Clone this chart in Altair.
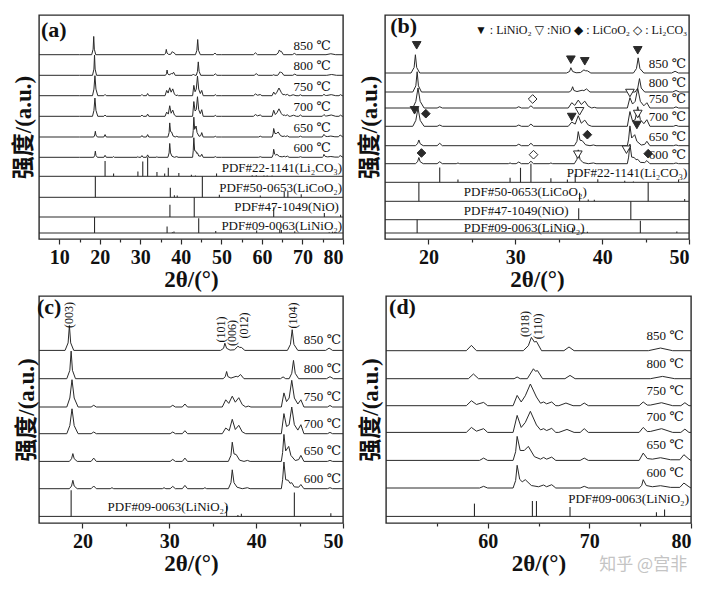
import altair as alt
import pandas as pd

# ---------------- data ----------------
TEMPS = ["850", "800", "750", "700", "650", "600"]

# (2theta, intensity) points of each pattern, intensity in arbitrary units
T850 = [(5, 0), (15, 0), (18.0, 0), (18.35, 25), (18.5, 83), (18.65, 25), (19.0, 0),
        (35.9, 0), (36.25, 7), (36.4, 24), (36.6, 7), (37.0, 1), (37.5, 2), (37.9, 14), (38.1, 10),
        (38.3, 10), (38.7, 0), (43.6, 0), (43.95, 20), (44.15, 69), (44.35, 20), (44.8, 0),
        (48.0, 0), (48.4, 7.7), (48.8, 0), (50, 0), (57.9, 0), (58.4, 8.6), (58.9, 0),
        (63.5, 0), (64.0, 8), (64.3, 21.5), (64.6, 14), (64.8, 15), (65.3, 0),
        (67.5, 0), (68.0, 6), (68.5, 0), (75.8, 0), (77.0, 4.3), (78.2, 0), (80, 0)]
T800 = [(5, 0), (15, 0), (18.2, 0), (18.55, 28), (18.7, 92), (18.85, 28), (19.2, 0),
        (36.2, 0), (36.45, 7), (36.6, 24), (36.75, 7), (37.1, 2), (37.7, 8), (37.9, 6), (38.2, 14), (38.6, 0),
        (42.8, 0), (43.1, 6), (43.4, 0), (43.8, 0), (44.1, 18), (44.3, 61), (44.5, 18), (44.9, 0),
        (48.1, 0), (48.5, 6.7), (48.9, 0), (50, 0), (58.1, 0), (58.6, 7.6), (59.1, 0),
        (62.6, 0), (62.9, 2.7), (63.2, 0), (63.9, 0), (64.5, 16), (64.7, 12), (64.9, 13), (65.4, 0),
        (67.6, 0), (68.1, 5.3), (68.6, 0), (76.0, 0), (77.2, 3.7), (78.4, 0), (80, 0)]
T750 = [(5, 0), (15, 0), (18.2, 0), (18.55, 30), (18.8, 91), (19.05, 30), (19.5, 0),
        (21.0, 0), (21.3, 5.7), (21.6, 0), (30.1, 0), (30.4, 5.7), (30.7, 0), (31.5, 0), (31.8, 10), (32.1, 0),
        (36.1, 0), (36.5, 24), (36.85, 12), (37.25, 36), (37.6, 16), (38.0, 31), (38.4, 8), (38.8, 0),
        (39.1, 3), (39.4, 0), (42.9, 0), (43.2, 47), (43.5, 18), (43.8, 30), (44.1, 89), (44.4, 30),
        (44.8, 10), (45.15, 24), (45.5, 0), (48.2, 0), (48.5, 5), (48.8, 0), (50, 0),
        (57.9, 0), (58.4, 8), (58.9, 2), (59.6, 5.3), (60.0, 0),
        (62.5, 0), (62.9, 16.6), (63.3, 6), (63.7, 16), (64.2, 35), (64.8, 14), (65.2, 4), (65.5, 6),
        (65.8, 3), (66.3, 6), (66.7, 0), (67.0, 0), (67.7, 4.3), (68.4, 0), (69.1, 0), (69.5, 4.3), (69.9, 0),
        (74.9, 0), (75.3, 6), (75.7, 1), (76.0, 1), (77.1, 4.8), (78.2, 0), (79.0, 0), (79.4, 4.8), (79.8, 0), (80, 0)]
T700 = [(5, 0), (15, 0), (18.2, 0), (18.55, 27), (18.8, 83), (19.05, 27), (19.5, 0),
        (21.0, 0), (21.3, 5.7), (21.6, 0), (30.1, 0), (30.4, 5.7), (30.7, 0), (31.5, 0), (31.8, 10), (32.1, 0),
        (36.1, 0), (36.5, 19), (36.9, 10), (37.25, 48), (37.6, 14), (38.0, 28), (38.4, 6), (38.8, 0),
        (42.9, 0), (43.2, 67), (43.5, 24), (43.8, 30), (44.1, 89), (44.4, 30), (44.8, 12), (45.15, 30), (45.5, 0),
        (48.2, 0), (48.5, 4.3), (48.8, 0), (50, 0), (57.9, 0), (58.4, 8), (58.9, 2), (59.6, 6), (60.0, 0),
        (62.5, 0), (62.9, 27.4), (63.3, 8), (63.7, 16), (64.2, 34), (64.8, 12), (65.2, 4), (65.5, 6),
        (65.8, 3), (66.3, 6.5), (66.7, 0), (67.0, 0), (67.8, 4.8), (68.5, 0), (69.1, 0), (69.5, 6), (69.9, 0),
        (74.9, 0), (75.3, 8), (75.7, 1.5), (76.0, 1.5), (77.1, 6), (78.2, 0), (79.0, 0), (79.4, 5.3), (79.8, 0), (80, 0)]
T650 = [(5, 0), (15, 0), (18.5, 0), (18.75, 9), (18.9, 26), (19.05, 9), (19.4, 0),
        (21.0, 0), (21.3, 11), (21.6, 0), (30.1, 0), (30.4, 6.7), (30.7, 0), (31.5, 0), (31.8, 11), (32.1, 0),
        (36.8, 0), (37.1, 20), (37.25, 64), (37.45, 25), (37.7, 23), (38.1, 4), (38.6, 0), (39.0, 3.3), (39.3, 0),
        (42.9, 0), (43.05, 30), (43.2, 90), (43.4, 35), (43.75, 50), (44.0, 20), (44.5, 3), (44.9, 6),
        (45.15, 20), (45.5, 0), (48.2, 0), (48.5, 3.3), (48.8, 0), (50, 0), (59.2, 0), (59.6, 3.7), (60.0, 0),
        (62.5, 0), (62.75, 14), (62.9, 38.7), (63.2, 16), (63.6, 16), (64.0, 22.6), (64.6, 6), (65.2, 2),
        (65.5, 4.8), (65.8, 2), (66.3, 5.3), (66.7, 0), (69.1, 0), (69.5, 3.7), (69.9, 0),
        (74.9, 0), (75.3, 11.8), (75.7, 3), (76.2, 2), (77, 4.3), (78.0, 1), (78.9, 1), (79.3, 9.2), (79.8, 2), (80, 0)]
T600 = [(5, 0), (15, 0), (18.5, 0), (18.75, 9), (18.9, 28), (19.05, 9), (19.4, 0),
        (21.0, 0), (21.3, 9), (21.6, 0), (23.2, 0), (23.4, 3.3), (23.6, 0),
        (29.2, 0), (29.4, 3.3), (29.6, 0), (30.1, 0), (30.4, 7.7), (30.7, 0), (31.5, 0), (31.8, 11), (32.1, 0),
        (33.9, 0), (34.1, 3.3), (34.3, 0), (36.8, 0), (37.1, 20), (37.25, 63), (37.45, 20), (37.8, 5),
        (38.4, 0), (39.0, 3.3), (39.3, 0), (42.9, 0), (43.05, 30), (43.2, 89), (43.4, 30), (43.7, 28),
        (43.9, 18), (44.1, 20), (44.4, 6), (44.9, 5), (45.15, 14), (45.5, 0), (48.2, 0), (48.5, 3.3), (48.8, 0),
        (50, 0), (59.2, 0), (59.6, 2.7), (60.0, 0),
        (62.5, 0), (62.75, 12), (62.9, 36.6), (63.15, 14), (63.4, 10), (63.7, 13.4), (64.3, 4), (65.0, 2),
        (65.5, 4.8), (65.8, 2), (66.3, 5.3), (66.7, 0), (69.1, 0), (69.5, 2.7), (69.9, 0),
        (74.9, 0), (75.15, 4), (75.3, 13.4), (75.6, 4), (76.2, 2), (77, 3.7), (78.0, 1), (78.9, 1), (79.3, 8), (79.8, 2), (80, 0)]
TRACES = {"850": T850, "800": T800, "750": T750, "700": T700, "650": T650, "600": T600}

# reference sticks: (2theta, relative intensity %)
S_LI2CO3 = [(21.3, 80), (23.4, 15), (29.4, 25), (30.6, 78), (31.8, 100), (34.1, 22), (36.0, 15),
            (36.9, 45), (39.5, 17), (42.6, 8), (43.6, 4), (48.8, 15), (57.6, 5), (58.6, 5),
            (60.5, 4), (61.3, 4), (62.5, 4)]
S_LICOO2 = [(18.9, 100), (37.4, 45), (38.4, 10), (39.1, 8), (45.3, 100), (49.5, 12), (59.6, 8),
            (65.5, 25), (66.4, 25), (69.7, 15)]
S_NIO = [(37.3, 62), (43.3, 100), (62.9, 50), (75.4, 20), (79.4, 12)]
S_LINIO2 = [(18.7, 100), (36.6, 40), (37.9, 5), (38.3, 10), (44.4, 92), (48.6, 12), (58.7, 15),
            (64.4, 18), (64.8, 18), (68.1, 11), (76.6, 5), (77.4, 8)]
STICKS = {"Li2CO3": S_LI2CO3, "LiCoO2": S_LICOO2, "NiO": S_NIO, "LiNiO2": S_LINIO2}
PDF_TEXT = {"Li2CO3": "PDF#22-1141(Li₂CO₃)", "LiCoO2": "PDF#50-0653(LiCoO₂)",
            "NiO": "PDF#47-1049(NiO)", "LiNiO2": "PDF#09-0063(LiNiO₂)"}

# phase markers of panel (b): (2theta, height)
M_LINIO2 = [(18.65, 193.7), (36.4, 179.3), (38.0, 177.7), (44.1, 188.7), (18.4, 128.7), (36.5, 122), (44.0, 114)]
M_NIO = [(43.2, 146), (37.4, 127.7), (44.1, 125), (37.2, 84.3), (42.8, 89.3)]
M_LICOO2 = [(19.7, 125.3), (38.3, 104.3), (19.2, 86), (45.3, 85.3)]
M_LI2CO3 = [(32.0, 140), (32.1, 84.3)]

HKL_C = [("(003)", 18.5, 208), ("(101)", 36.0, 193.6), ("(006)", 37.26, 190),
         ("(012)", 38.6, 197.6), ("(104)", 44.2, 207.6)]
HKL_D = [("(018)", 63.7, 199), ("(110)", 64.95, 196.6)]

# ---------------- layout / style ----------------
SERIF = "Liberation Serif, DejaVu Serif, Noto Sans CJK SC, serif"
INK = "#2a2a2a"

LAYOUT = {
    "a": dict(xmin=5, xmax=80, width=304, height=224, scale=0.22, mult=1.0, ypad=4,
              base={"850": 184.3, "800": 163.7, "750": 143.3, "700": 122.7, "650": 102, "600": 81.7},
              pdfs={"Li2CO3": (62.7, 19), "LiCoO2": (41.7, 21), "NiO": (22, 19.7), "LiNiO2": (6, 16)},
              pdf_lab=[("Li2CO3", 79.8, 71, "right"), ("LiCoO2", 79.8, 51, "right"),
                       ("NiO", 79.0, 31.7, "right"), ("LiNiO2", 79.8, 12.7, "right")],
              temp_x=77.0, temp_dy=9, tag="(a)", tag_x=5.5, tag_y=209),
    "b": dict(xmin=15, xmax=50, width=304, height=224, scale=0.22, mult=1.0, ypad=4,
              base={"850": 166, "800": 147, "750": 131, "700": 112.7, "650": 93.3, "600": 75.3},
              pdfs={"Li2CO3": (56.7, 18.6), "LiCoO2": (37.7, 19), "NiO": (19.3, 18.4), "LiNiO2": (6, 13.3)},
              pdf_lab=[("Li2CO3", 49.8, 66, "right"), ("LiCoO2", 24.07, 46.7, "left"),
                       ("NiO", 24.07, 27.7, "left"), ("LiNiO2", 24.07, 11, "left")],
              temp_x=49.65, temp_dy=9, tag="(b)", tag_x=15.6, tag_y=212.7),
    "c": dict(xmin=15, xmax=50, width=304, height=227, scale=0.3, mult=0.94, ypad=1,
              base={"850": 172.6, "800": 144.3, "750": 116, "700": 89.3, "650": 61.6, "600": 34.3},
              pdfs={"LiNiO2": (6.6, 27.7)},
              pdf_lab=[("LiNiO2", 22.9, 16, "left")],
              temp_x=49.77, temp_dy=10, tag="(c)", tag_x=15.0, tag_y=216),
    "d": dict(xmin=50, xmax=80, width=305, height=227, scale=0.62, mult=3.0, ypad=4,
              base={"850": 172.3, "800": 144.3, "750": 117.3, "700": 90.6, "650": 62.6, "600": 35},
              pdfs={"LiNiO2": (6.6, 28.4)},
              pdf_lab=[("LiNiO2", 79.8, 24.5, "right")],
              temp_x=79.3, temp_dy=15, tag="(d)", tag_x=50.3, tag_y=216),
}


def make_panel(key):
    cfg = LAYOUT[key]
    xmin, xmax, H = cfg["xmin"], cfg["xmax"], cfg["height"]

    rows = []
    for t in TEMPS:
        for x, v in TRACES[t]:
            if xmin <= x <= xmax:
                rows.append({"trace": t, "x": x, "y": cfg["base"][t] + v * cfg["scale"]})
    line_df = pd.DataFrame(rows)

    srows, brows = [], []
    for name, (b0, h) in cfg["pdfs"].items():
        brows.append({"x": xmin, "x2": xmax, "y": b0})
        for x, pct in STICKS[name]:
            if xmin < x < xmax:
                srows.append({"x": x, "y": b0, "y2": min(b0 + pct / 100 * h * cfg["mult"], b0 + h)})
    stick_df = pd.DataFrame(srows)
    base_df = pd.DataFrame(brows)

    tick_vals = [v for v in range(5, 81, 5) if xmin < v <= xmax]
    xs = alt.Scale(domain=[xmin, xmax], nice=False, zero=False)
    ys = alt.Scale(domain=[0, H], nice=False, zero=False)
    xaxis = alt.Axis(values=tick_vals, labelExpr="datum.value % 10 == 0 ? datum.label : ''",
                     title="2θ/(°)", grid=False, domain=False,
                     tickSize={"condition": {"test": "datum.value % 10 == 0", "value": 5}, "value": 3},
                     tickColor=INK, tickWidth=1.2, labelPadding=3, titlePadding=1)
    yaxis = alt.Axis(title="强度/(a.u.)", ticks=False, labels=False, domain=False, grid=False,
                     titlePadding=cfg["ypad"])
    X = alt.X("x:Q", scale=xs, axis=xaxis)
    Y = alt.Y("y:Q", scale=ys, axis=yaxis)

    lines = alt.Chart(line_df).mark_line(color=INK, strokeWidth=1).encode(
        x=X, y=Y, detail="trace:N", order="x:Q")
    base_rules = alt.Chart(base_df).mark_rule(color=INK, strokeWidth=1).encode(
        x=X, x2="x2:Q", y=Y)
    sticks = alt.Chart(stick_df).mark_rule(color=INK, strokeWidth=1.1).encode(
        x=X, y=Y, y2="y2:Q")

    temp_df = pd.DataFrame([{"x": cfg["temp_x"], "y": cfg["base"][t] + cfg["temp_dy"], "text": f"{t}  ℃"}
                            for t in TEMPS])
    temps = alt.Chart(temp_df).mark_text(align="right", baseline="middle", font=SERIF,
                                         fontSize=13, color="#111").encode(x=X, y=Y, text="text:N")

    layers = [lines, base_rules, sticks, temps]

    for align in ["left", "right"]:
        lab = [{"x": x, "y": y, "text": PDF_TEXT[n]} for n, x, y, a in cfg["pdf_lab"] if a == align]
        if lab:
            layers.append(alt.Chart(pd.DataFrame(lab)).mark_text(
                align=align, baseline="middle", font=SERIF, fontSize=13, color="#111").encode(
                x=X, y=Y, text="text:N"))

    tag_df = pd.DataFrame([{"x": cfg["tag_x"], "y": cfg["tag_y"], "text": cfg["tag"]}])
    layers.append(alt.Chart(tag_df).mark_text(
        align="left", baseline="middle", font=SERIF, fontSize=22, fontWeight="bold",
        dx=-2 if key == "c" else 0, color="#111").encode(x=X, y=Y, text="text:N"))

    if key == "b":
        shapes = [(M_LINIO2, "triangle-down", INK), (M_NIO, "triangle-down", "white"),
                  (M_LICOO2, "diamond", INK), (M_LI2CO3, "diamond", "white")]
        for pts, shp, fill in shapes:
            mdf = pd.DataFrame([{"x": x, "y": y} for x, y in pts])
            layers.append(alt.Chart(mdf).mark_point(
                shape=shp, filled=True, fill=fill, stroke=INK, strokeWidth=1, size=75,
                opacity=1).encode(x=X, y=Y))
        leg = pd.DataFrame([{"x": 49.8, "y": 209.3,
                             "text": "▼ : LiNiO₂  ▽ :NiO  ◆ : LiCoO₂  ◇ : Li₂CO₃"}])
        layers.append(alt.Chart(leg).mark_text(
            align="right", baseline="middle", font=SERIF, fontSize=12, color="#111").encode(
            x=X, y=Y, text="text:N"))

    if key in ("c", "d"):
        hkl = HKL_C if key == "c" else HKL_D
        hdf = pd.DataFrame([{"x": x, "y": y, "text": s} for s, x, y in hkl])
        layers.append(alt.Chart(hdf).mark_text(
            align="center", baseline="middle", angle=270, font=SERIF, fontSize=12,
            color="#111").encode(x=X, y=Y, text="text:N"))

    if key == "d":
        wm = pd.DataFrame([{"x": 75.3, "y": -42, "text": "知乎 @宫非"}])
        layers.append(alt.Chart(wm).mark_text(
            align="center", baseline="middle", font="Noto Sans CJK SC", fontSize=17,
            color="#c4c4c4").encode(x=X, y=Y, text="text:N"))

    return alt.layer(*layers).properties(width=cfg["width"], height=H)


top = alt.hconcat(make_panel("a"), make_panel("b"), spacing=11)
bottom = alt.hconcat(make_panel("c"), make_panel("d"), spacing=12)

chart = alt.vconcat(top, bottom, spacing=3).properties(
    padding={"left": 11, "top": 14, "right": 5, "bottom": 5},
    background="white"
).configure_view(
    stroke=INK, strokeWidth=1.4
).configure_axis(
    labelFont=SERIF, labelFontSize=20, labelFontWeight="bold", labelColor="#111",
    titleFont=SERIF, titleFontSize=23, titleFontWeight="bold", titleColor="#111"
)

chart.save("out.html", embed_options={"renderer": "svg", "actions": False})
